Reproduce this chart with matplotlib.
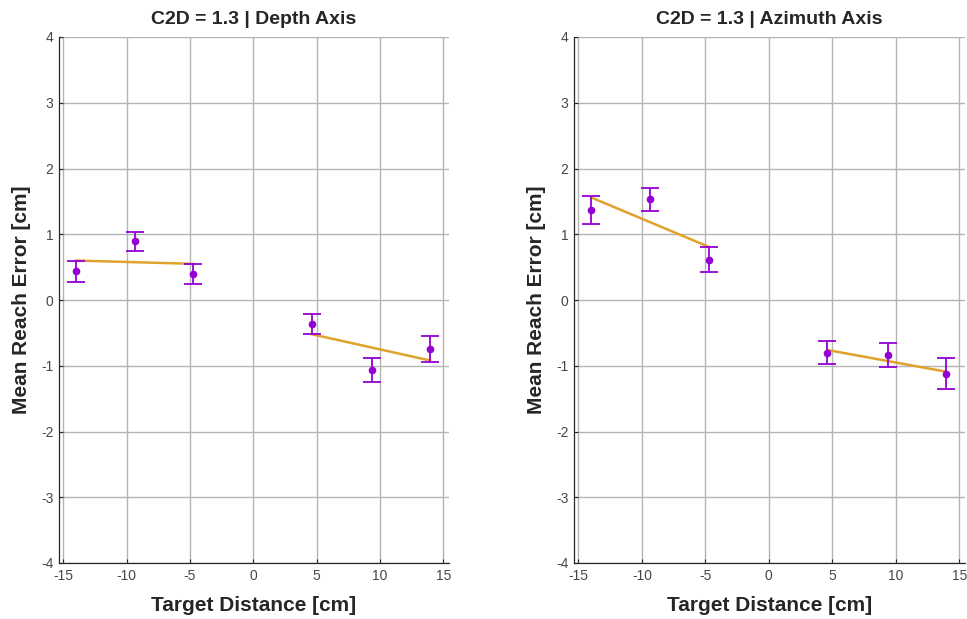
import matplotlib
matplotlib.use("Agg")
import matplotlib.pyplot as plt

plt.rcParams['font.family'] = ['Liberation Sans', 'DejaVu Sans']

# Target distances [cm]
target_x = [-14.0, -9.35, -4.75, 4.6, 9.35, 13.95]

# Depth axis: mean reach error and error-bar half widths
depth_mean = [0.44, 0.89, 0.40, -0.37, -1.06, -0.75]
depth_err = [0.16, 0.15, 0.15, 0.15, 0.18, 0.20]
# Linear fit endpoints per side (near / far targets)
depth_fit_left_x = [-14.0, -4.75]
depth_fit_left_y = [0.60, 0.55]
depth_fit_right_x = [4.6, 13.95]
depth_fit_right_y = [-0.52, -0.92]

# Azimuth axis
azim_mean = [1.37, 1.53, 0.61, -0.80, -0.84, -1.12]
azim_err = [0.21, 0.18, 0.19, 0.17, 0.18, 0.24]
azim_fit_left_x = [-14.0, -4.75]
azim_fit_left_y = [1.56, 0.81]
azim_fit_right_x = [4.6, 13.95]
azim_fit_right_y = [-0.76, -1.09]

titles = ["C2D = 1.3 | Depth Axis", "C2D = 1.3 | Azimuth Axis"]
x_ticks = [-15, -10, -5, 0, 5, 10, 15]
y_ticks = [-4, -3, -2, -1, 0, 1, 2, 3, 4]

point_color = "#9400D3"
fit_color = "#DFA22A"
text_color = "#262626"

fig = plt.figure(figsize=(9.67, 6.19), dpi=100)
ax_l = fig.add_axes([59 / 967, 1 - 563 / 619, (449 - 59) / 967, (563 - 37) / 619])
ax_r = fig.add_axes([574 / 967, 1 - 563 / 619, (965 - 574) / 967, (563 - 37) / 619])

panels = [
    (ax_l, depth_mean, depth_err, depth_fit_left_x, depth_fit_left_y, depth_fit_right_x, depth_fit_right_y),
    (ax_r, azim_mean, azim_err, azim_fit_left_x, azim_fit_left_y, azim_fit_right_x, azim_fit_right_y),
]

for (ax, mean, err, flx, fly, frx, fry), title in zip(panels, titles):
    ax.plot(flx, fly, color=fit_color, lw=1.8, zorder=3)
    ax.plot(frx, fry, color=fit_color, lw=1.8, zorder=3)
    ax.errorbar(target_x, mean, yerr=err, fmt='o', color=point_color, ms=4.5,
                ecolor=point_color, elinewidth=1.3, capsize=6.5, capthick=1.3, zorder=4)
    ax.set_xlim(-15.35, 15.45)
    ax.set_ylim(-4, 4)
    ax.set_xticks(x_ticks)
    ax.set_yticks(y_ticks)
    ax.set_xticklabels([str(t) for t in x_ticks])
    ax.set_yticklabels([str(t) for t in y_ticks])
    ax.grid(True, color="#b4b4b4", lw=1.0)
    ax.set_axisbelow(True)
    for s in ("top", "right"):
        ax.spines[s].set_visible(False)
    for s in ("left", "bottom"):
        ax.spines[s].set_color(text_color)
        ax.spines[s].set_linewidth(0.9)
    ax.tick_params(direction='in', length=3, width=0.8, colors=text_color,
                   labelsize=10, labelcolor="#474747", pad=4)
    ax.set_xlabel("Target Distance [cm]", fontsize=15, fontweight='bold', color=text_color, labelpad=10)
    ax.set_ylabel("Mean Reach Error [cm]", fontsize=15, fontweight='bold', color=text_color, labelpad=7)
    ax.set_title(title, fontsize=14, fontweight='bold', color=text_color, pad=9)

fig.savefig("out.png", dpi=100, facecolor="white")
